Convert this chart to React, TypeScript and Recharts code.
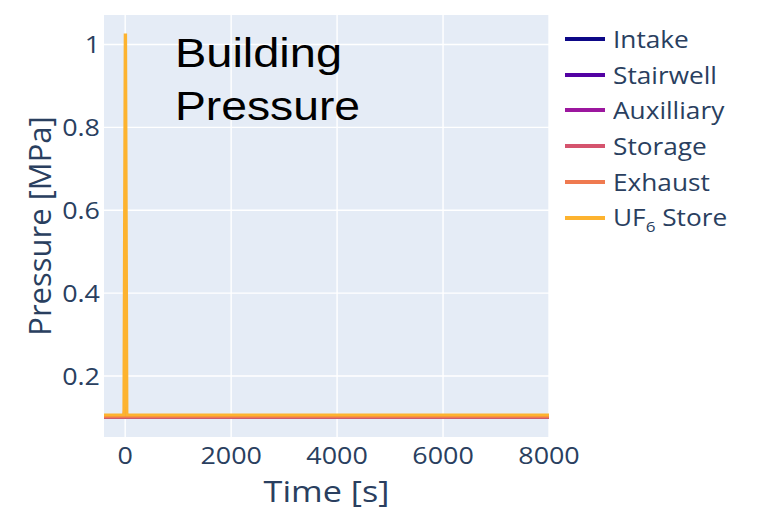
import { CartesianGrid, Label, Legend, Line, LineChart, XAxis, YAxis } from 'recharts'

const times = [-400, -25, 0, 8, 33, 2000, 4000, 6000, 8000]
const intake = [0.1013, 0.1013, 0.1013, 0.1013, 0.1013, 0.1013, 0.1013, 0.1013, 0.1013]
const stairwell = [0.1013, 0.1013, 0.1013, 0.1013, 0.1013, 0.1013, 0.1013, 0.1013, 0.1013]
const auxilliary = [0.1013, 0.1013, 0.1013, 0.1013, 0.1013, 0.1013, 0.1013, 0.1013, 0.1013]
const storage = [0.1013, 0.1013, 0.135, 0.13, 0.1013, 0.1013, 0.1013, 0.1013, 0.1013]
const exhaust = [0.1013, 0.1013, 0.1013, 0.1013, 0.1013, 0.1013, 0.1013, 0.1013, 0.1013]
const uf6Store = [0.106, 0.106, 1.023, 1.023, 0.106, 0.106, 0.106, 0.106, 0.106]

const xTicks = [0, 2000, 4000, 6000, 8000]
const yTicks = [0.2, 0.4, 0.6, 0.8, 1]

const series = [
  { key: 'intake', name: 'Intake', color: '#0d0887', values: intake },
  { key: 'stairwell', name: 'Stairwell', color: '#5302a3', values: stairwell },
  { key: 'auxilliary', name: 'Auxilliary', color: '#9c179e', values: auxilliary },
  { key: 'storage', name: 'Storage', color: '#d5546e', values: storage },
  { key: 'exhaust', name: 'Exhaust', color: '#ef7a50', values: exhaust },
  { key: 'uf6', name: 'UF6 Store', color: '#fdb32f', values: uf6Store },
]

const data = times.map((t, i) => {
  const row: Record<string, number> = { time: t }
  series.forEach((s) => {
    row[s.key] = s.values[i]
  })
  return row
})

const FONT = '"Open Sans", verdana, arial, sans-serif'
const TEXT = '#2a3f5f'
// the reference glyphs are a little wider than the font, stretch them sideways
const STRETCH = 1.12

const XTick = ({ x = 0, y = 0, payload }: { x?: number; y?: number; payload?: { value: number } }) => (
  <text
    transform={`translate(${x},${y}) scale(${STRETCH},1)`}
    textAnchor="middle"
    dy="0.71em"
    fill={TEXT}
    fontSize={24}
    fontFamily={FONT}
  >
    {payload?.value}
  </text>
)

const YTick = ({ x = 0, y = 0, payload }: { x?: number; y?: number; payload?: { value: number } }) => (
  <text
    transform={`translate(${x},${y}) scale(${STRETCH},1)`}
    textAnchor="end"
    dy="0.355em"
    fill={TEXT}
    fontSize={24}
    fontFamily={FONT}
  >
    {payload ? String(payload.value) : ''}
  </text>
)

const XTitle = ({ viewBox }: { viewBox?: { x: number; y: number; width: number; height: number } }) => {
  if (!viewBox) return null
  const cx = viewBox.x + viewBox.width / 2
  const by = viewBox.y + viewBox.height - 5
  return (
    <text
      transform={`translate(${cx},${by}) scale(1.14,1)`}
      textAnchor="middle"
      fill={TEXT}
      fontSize={30}
      fontFamily={FONT}
    >
      Time [s]
    </text>
  )
}

const LegendContent = () => (
  <div style={{ fontFamily: FONT, fontSize: 23, color: TEXT }}>
    {series.map((s) => (
      <div key={s.key} style={{ display: 'flex', alignItems: 'center', height: 35.8 }}>
        <div style={{ width: 40, height: 4, background: s.color, marginRight: 8 }} />
        <span
          style={{
            whiteSpace: 'nowrap',
            display: 'inline-block',
            transform: 'scaleX(1.14)',
            transformOrigin: 'left center',
          }}
        >
          {s.name === 'UF6 Store' ? (
            <>
              UF<sub style={{ fontSize: 15 }}>6</sub> Store
            </>
          ) : (
            s.name
          )}
        </span>
      </div>
    ))}
  </div>
)

export default function App() {
  return (
    <div style={{ position: 'relative', width: 757, height: 515 }}>
      <style>{'body{margin:0}'}</style>
      <LineChart
        width={757}
        height={515}
        data={data}
        margin={{ top: 15, right: 208, left: 24, bottom: 8 }}
      >
        <CartesianGrid fill="#e5ecf6" stroke="#ffffff" strokeWidth={1.4} horizontalValues={yTicks} verticalValues={xTicks} />
        <XAxis
          dataKey="time"
          type="number"
          domain={[-400, 8000]}
          ticks={xTicks}
          height={70}
          axisLine={false}
          tickLine={false}
          tickSize={0}
          tickMargin={10}
          tick={<XTick />}
        >
          <Label content={<XTitle />} />
        </XAxis>
        <YAxis
          type="number"
          domain={[0.053, 1.071]}
          ticks={yTicks}
          width={80}
          axisLine={false}
          tickLine={false}
          tickSize={0}
          tickMargin={4}
          allowDataOverflow
          tick={<YTick />}
        >
          <Label
            value="Pressure [MPa]"
            angle={-90}
            position="insideLeft"
            offset={16}
            fill={TEXT}
            fontSize={31}
            fontFamily={FONT}
            style={{ textAnchor: 'middle' }}
          />
        </YAxis>
        <Legend
          layout="vertical"
          align="center"
          verticalAlign="middle"
          wrapperStyle={{ left: 565, top: 21, width: 190 }}
          content={<LegendContent />}
        />
        {series.map((s) => (
          <Line
            key={s.key}
            dataKey={s.key}
            name={s.name}
            type="linear"
            stroke={s.color}
            strokeWidth={3}
            dot={false}
            activeDot={false}
            isAnimationActive={false}
          />
        ))}
      </LineChart>
      <svg width={757} height={515} style={{ position: 'absolute', left: 0, top: 0, pointerEvents: 'none' }}>
        <text x={175} y={67} fontFamily='"Liberation Sans", Arial, sans-serif' fontSize={40} fill="#000" textLength={167} lengthAdjust="spacingAndGlyphs">
          Building
        </text>
        <text x={175} y={120} fontFamily='"Liberation Sans", Arial, sans-serif' fontSize={40} fill="#000" textLength={185} lengthAdjust="spacingAndGlyphs">
          Pressure
        </text>
      </svg>
    </div>
  )
}
